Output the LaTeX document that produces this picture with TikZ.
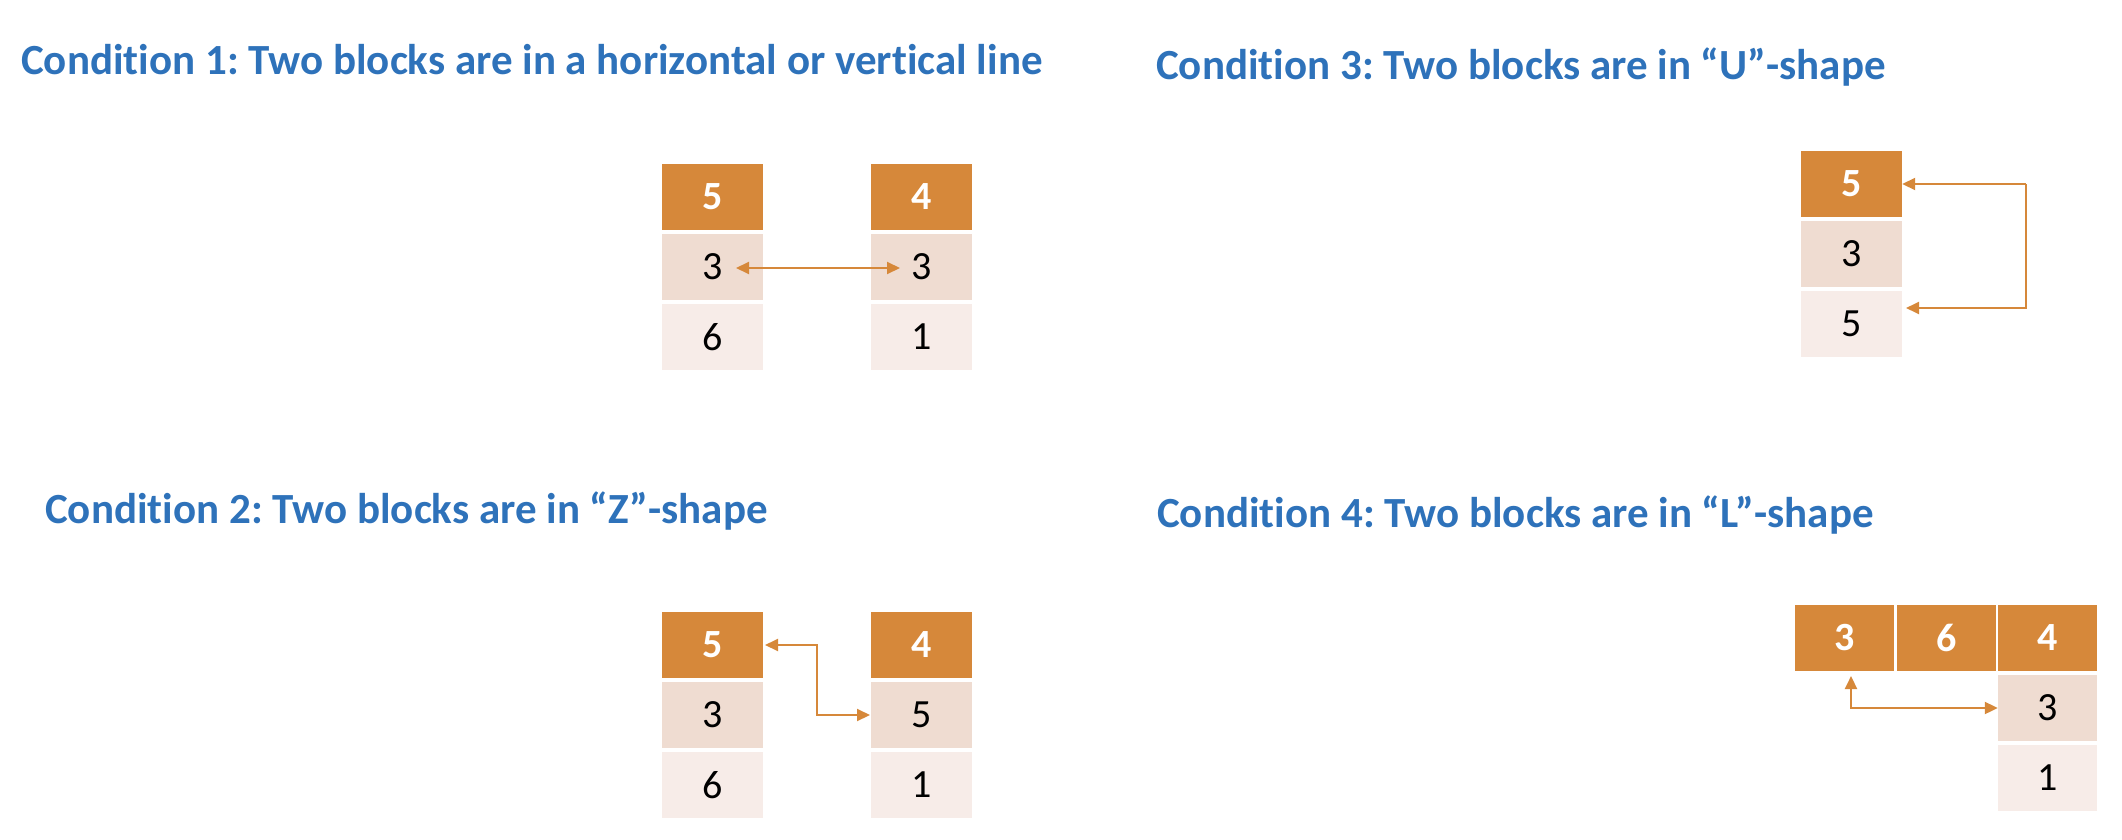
\documentclass[tikz,border=0pt]{standalone}
\usepackage{fontspec}
\setmainfont[Ligatures=NoCommon]{Carlito}
\frenchspacing
\usetikzlibrary{arrows.meta}
\definecolor{hdr}{HTML}{D6883A}
\definecolor{midc}{HTML}{EFDCD1}
\definecolor{lowc}{HTML}{F7ECE8}
\definecolor{ttl}{HTML}{2E72BA}
\tikzset{
  cell/.style={minimum width=101pt,minimum height=66pt,inner sep=0pt,font=\fontsize{40}{46}\selectfont},
  hcell/.style={cell,fill=hdr,text=white,font=\fontsize{40}{46}\selectfont\bfseries},
  mcell/.style={cell,fill=midc,text=black},
  lcell/.style={cell,fill=lowc,text=black},
  title/.style={anchor=base west,inner sep=0pt,text=ttl,font=\fontsize{43}{50}\selectfont\bfseries},
  link/.style={draw=hdr,line width=2pt,-{Triangle[length=13pt,width=12pt]}},
  blink/.style={draw=hdr,line width=2pt,{Triangle[length=13pt,width=12pt]}-{Triangle[length=13pt,width=12pt]}}
}
\begin{document}
\begin{tikzpicture}[x=1pt,y=-1pt]
\useasboundingbox (0,0) rectangle (2122,840);
% titles
\node[title] (t1) at (21,75) {Condition 1: Two blocks are in a horizontal or vertical line};
\node[title] (t3) at (1156,80) {Condition 3: Two blocks are in “U”-shape};
\node[title] (t2) at (45,523) {Condition 2: Two blocks are in “Z”-shape};
\node[title] (t4) at (1157,527) {Condition 4: Two blocks are in “L”-shape};
% condition 1
\node[hcell] (a1) at (712.5,197) {5};
\node[mcell] (a2) at (712.5,267) {3};
\node[lcell] (a3) at (712.5,337) {6};
\node[hcell] (b1) at (921.5,197) {4};
\node[mcell] (b2) at (921.5,267) {3};
\node[lcell] (b3) at (921.5,337) {1};
\coordinate (a2t) at (736,268);
\coordinate (b2t) at (900,268);
\draw[blink] (a2t) -- (b2t);
% condition 3
\node[hcell] (u1) at (1851.5,184) {5};
\node[mcell] (u2) at (1851.5,254) {3};
\node[lcell] (u3) at (1851.5,324) {5};
\coordinate (u1t) at (u1.east);
\coordinate (u3t) at (1906,308);
\coordinate (ur) at (2026,184);
\draw[link] (ur) -- (u1t);
\draw[link] (ur) |- (u3t);
% condition 2
\node[hcell] (z1) at (712.5,645) {5};
\node[mcell] (z2) at (712.5,715) {3};
\node[lcell] (z3) at (712.5,785) {6};
\node[hcell] (w1) at (921.5,645) {4};
\node[mcell] (w2) at (921.5,715) {5};
\node[lcell] (w3) at (921.5,785) {1};
\coordinate (zt) at (765,645);
\coordinate (zm) at (817,645);
\coordinate (wt) at (870,715);
\draw[blink] (zt) -- (zm) |- (wt);
% condition 4
\node[hcell,minimum width=99pt] (l1) at (1844.5,638) {3};
\node[hcell,minimum width=99pt] (l2) at (1946.5,638) {6};
\node[hcell,minimum width=99pt] (l3) at (2047.5,638) {4};
\node[mcell,minimum width=99pt] (l4) at (2047.5,708) {3};
\node[lcell,minimum width=99pt] (l5) at (2047.5,778) {1};
\coordinate (lt) at (1851,676);
\coordinate (lr) at (l4.west);
\draw[blink] (lt) |- (lr);
\end{tikzpicture}
\end{document}
